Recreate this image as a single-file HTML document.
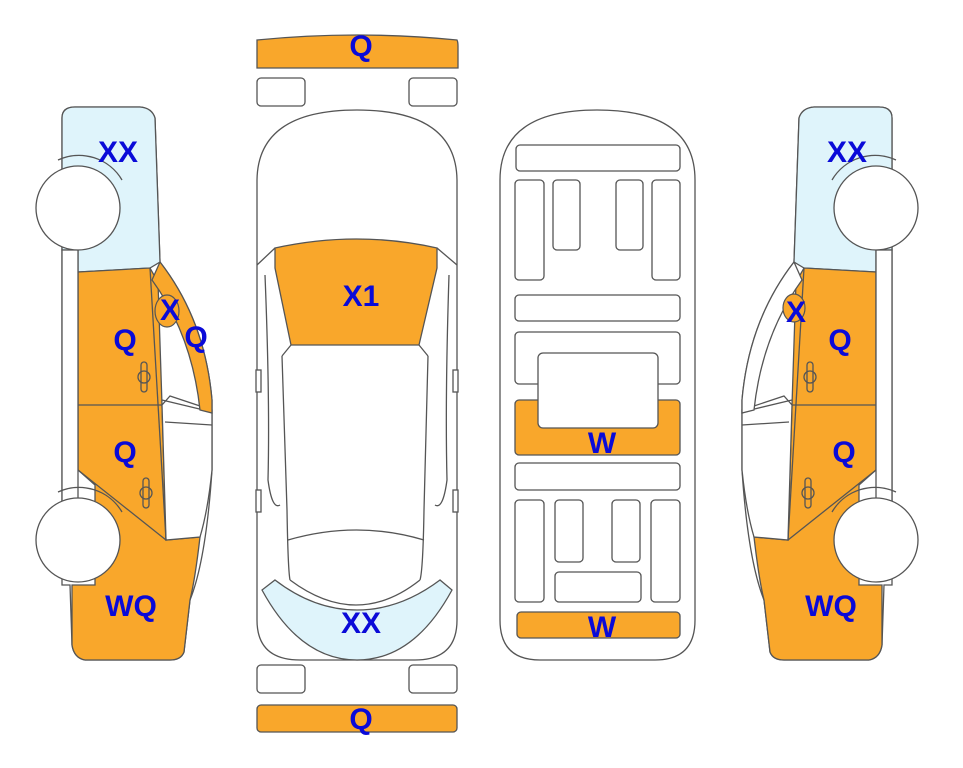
<!DOCTYPE html>
<html><head><meta charset="utf-8"><style>
html,body{margin:0;padding:0;background:#fff;}
svg{display:block;}
text{font-family:"Liberation Sans",Arial,sans-serif;font-weight:bold;fill:#0a0ad8;font-size:30px;text-anchor:middle;}
</style></head><body>
<svg width="963" height="768" viewBox="0 0 963 768" xmlns="http://www.w3.org/2000/svg">
<defs>
<g id="side" stroke="#555" stroke-width="1.3">
  <path d="M75,107 L140,107 Q152,108 155,118 L160,262 Q205,320 212,400 L212,470 Q206,560 190,600 L184,652 Q181,660 170,660 L85,660 Q74,658 72,645 L70,585 L62,585 L62,118 Q62,107 75,107 Z" fill="#fff"/>
  <path d="M75,107 L140,107 Q152,108 155,118 L160,262 L150,268 L78,272 L78,250 L62,250 L62,118 Q62,107 75,107 Z" fill="#dff4fb"/>
  <path d="M78,272 L150,268 L158,282 L162,405 L166,540 L200,537 Q195,580 190,600 L184,652 Q181,660 170,660 L85,660 Q74,658 72,645 L72,585 L95,585 L95,485 L78,470 Z" fill="#f9a72b"/>
  <path d="M170,396 L212,410 L212,470 Q208,510 200,537 L166,540 L162,405 Z" fill="#fff"/>
  <path d="M62,250 L78,250 L78,505 L62,505 Z" fill="#fff"/>
  <line x1="78" y1="405" x2="162" y2="405"/>
  <line x1="150" y1="268" x2="166" y2="540"/>
  <line x1="78" y1="470" x2="166" y2="540"/>
  <line x1="162" y1="400" x2="212" y2="412"/>
  <line x1="165" y1="422" x2="212" y2="425"/>
  <rect x="141" y="362" width="6" height="30" rx="3" fill="none"/>
  <circle cx="144" cy="377" r="6" fill="none"/>
  <rect x="143" y="478" width="6" height="30" rx="3" fill="none"/>
  <circle cx="146" cy="493" r="6" fill="none"/>
  <path d="M58,160 A50,50 0 0 1 122,180" fill="none"/>
  <circle cx="78" cy="208" r="42" fill="#fff"/>
  <path d="M58,492 A50,50 0 0 1 122,512" fill="none"/>
  <circle cx="78" cy="540" r="42" fill="#fff"/>
</g>
</defs>
<use href="#side"/>
<path d="M160,262 Q205,320 212,400 L212,413 L200,410 Q192,335 152,280 Z" fill="#f9a72b" stroke="#555" stroke-width="1.3"/>
<ellipse cx="167" cy="311" rx="12" ry="16" fill="#f9a72b" stroke="#555" stroke-width="1.2"/>
<g transform="translate(954,0) scale(-1,1)">
<use href="#side"/>
<path d="M160,262 Q205,320 212,400 L212,413 L200,410 Q192,335 152,280 Z" fill="#fff" stroke="#555" stroke-width="1.3"/>
<ellipse cx="160" cy="308" rx="11" ry="14" fill="#f9a72b" stroke="#555" stroke-width="1.2"/>
</g>

<!-- top view -->
<g stroke="#555" stroke-width="1.3">
<path d="M257,40 Q357,30 457,40 Q458,42 458,46 L458,68 L257,68 L257,46 Q257,42 257,40 Z" fill="#f9a72b"/>
<rect x="257" y="78" width="48" height="28" rx="4" fill="#fff"/>
<rect x="409" y="78" width="48" height="28" rx="4" fill="#fff"/>
<rect x="257" y="665" width="48" height="28" rx="4" fill="#fff"/>
<rect x="409" y="665" width="48" height="28" rx="4" fill="#fff"/>
<rect x="257" y="705" width="200" height="27" rx="4" fill="#f9a72b"/>
<path d="M257,180 Q258,110 357,110 Q456,110 457,180 L457,620 Q457,660 415,660 L300,660 Q257,660 257,620 Z" fill="#fff"/>
<path d="M262,590 Q300,660 357,660 Q414,660 452,590 L440,580 Q400,610 357,610 Q314,610 275,580 Z" fill="#dff4fb"/>
<path d="M275,248 Q357,230 437,248 L437,268 L419,345 L291,345 L275,268 Z" fill="#f9a72b"/>
<path d="M257,265 L275,248 M457,265 L437,248 M291,345 L282,356 M419,345 L428,356" fill="none"/>
<path d="M282,356 L287,510 Q288,570 290,580 M428,356 L424,510 Q423,570 420,580" fill="none"/>
<path d="M265,275 Q270,400 268,480 Q272,510 280,505 M449,275 Q445,400 447,480 Q443,510 435,505" fill="none"/>
<path d="M288,540 Q357,520 424,540" fill="none"/>
<path d="M290,580 Q357,630 420,580" fill="none"/>
<rect x="256" y="370" width="5" height="22" fill="#fff"/>
<rect x="453" y="370" width="5" height="22" fill="#fff"/>
<rect x="256" y="490" width="5" height="22" fill="#fff"/>
<rect x="453" y="490" width="5" height="22" fill="#fff"/>
</g>

<!-- interior view -->
<g stroke="#555" stroke-width="1.3" fill="#fff">
<path d="M500,180 Q500,110 597,110 Q695,110 695,180 L695,620 Q695,660 655,660 L540,660 Q500,660 500,620 Z"/>
<rect x="516" y="145" width="164" height="26" rx="4"/>
<rect x="515" y="180" width="29" height="100" rx="4"/>
<rect x="553" y="180" width="27" height="70" rx="4"/>
<rect x="616" y="180" width="27" height="70" rx="4"/>
<rect x="652" y="180" width="28" height="100" rx="4"/>
<rect x="515" y="295" width="165" height="26" rx="4"/>
<rect x="515" y="332" width="165" height="52" rx="4"/>
<rect x="515" y="400" width="165" height="55" rx="4" fill="#f9a72b"/>
<rect x="538" y="353" width="120" height="75" rx="5"/>
<rect x="515" y="463" width="165" height="27" rx="4"/>
<rect x="515" y="500" width="29" height="102" rx="4"/>
<rect x="555" y="500" width="28" height="62" rx="4"/>
<rect x="612" y="500" width="28" height="62" rx="4"/>
<rect x="651" y="500" width="29" height="102" rx="4"/>
<rect x="555" y="572" width="86" height="30" rx="4"/>
<rect x="517" y="612" width="163" height="26" rx="4" fill="#f9a72b"/>
</g>

<text x="118" y="162">XX</text>
<text x="170" y="320">X</text>
<text x="125" y="350">Q</text>
<text x="196" y="347">Q</text>
<text x="125" y="462">Q</text>
<text x="131" y="616">WQ</text>
<text x="361" y="56" font-size="26">Q</text>
<text x="361" y="306">X1</text>
<text x="361" y="633">XX</text>
<text x="361" y="729" font-size="26">Q</text>
<text x="602" y="453">W</text>
<text x="602" y="637">W</text>
<text x="847" y="162">XX</text>
<text x="796" y="322">X</text>
<text x="840" y="350">Q</text>
<text x="844" y="462">Q</text>
<text x="831" y="616">WQ</text>
</svg>
</body></html>
